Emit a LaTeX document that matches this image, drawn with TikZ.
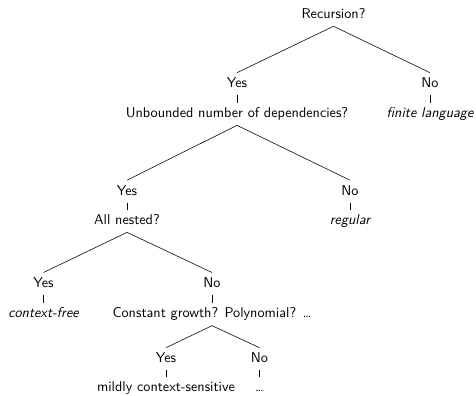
\documentclass[tikz,border=0pt]{standalone}
\begin{document}
\begin{tikzpicture}[x=0.7042pt,y=-0.7042pt,
  every node/.style={font=\sffamily, text height=6.9pt, text depth=2pt, inner sep=3.33pt, anchor=base},
  leaf/.style={font=\sffamily\itshape},
  edge/.style={draw, line width=0.4pt}]
\useasboundingbox (0,0) rectangle (476,395);
% level 0
\node (rec) at (333.5,18.4) {Recursion?};
% level 1
\node (y1) at (237,87.5) {Yes};
\node (n1) at (430,87.5) {No};
\node (unb) at (237,117.5) {Unbounded number of dependencies?};
\node[leaf] (fin) at (430,117.5) {finite language};
% level 2
\node (y2) at (127,195) {Yes};
\node (n2) at (350,195) {No};
\node (nest) at (127,224.5) {All nested?};
\node[leaf] (reg) at (350,224.5) {regular};
% level 3
\node (y3) at (43.5,287.3) {Yes};
\node (n3) at (212,287.3) {No};
\node[leaf] (cf) at (43.5,317.8) {context-free};
\node (cg) at (212,317.8) {Constant growth? Polynomial? \dots};
% level 4
\node (y4) at (166,362.5) {Yes};
\node (n4) at (259.5,362.5) {No};
\node (mcs) at (166,391.5) {mildly context-sensitive};
\node (dots) at (259.5,391.5) {\dots};
% edges
\path[edge] (rec.south) -- (y1.north);
\path[edge] (rec.south) -- (n1.north);
\path[edge] (y1.south) -- (unb.north);
\path[edge] (n1.south) -- (fin.north);
\path[edge] (unb.south) -- (y2.north);
\path[edge] (unb.south) -- (n2.north);
\path[edge] (y2.south) -- (nest.north);
\path[edge] (n2.south) -- (reg.north);
\path[edge] (nest.south) -- (y3.north);
\path[edge] (nest.south) -- (n3.north);
\path[edge] (y3.south) -- (cf.north);
\path[edge] (n3.south) -- (cg.north);
\path[edge] (cg.south) -- (y4.north);
\path[edge] (cg.south) -- (n4.north);
\path[edge] (y4.south) -- (mcs.north);
\path[edge] (n4.south) -- (dots.north);
\end{tikzpicture}
\end{document}
